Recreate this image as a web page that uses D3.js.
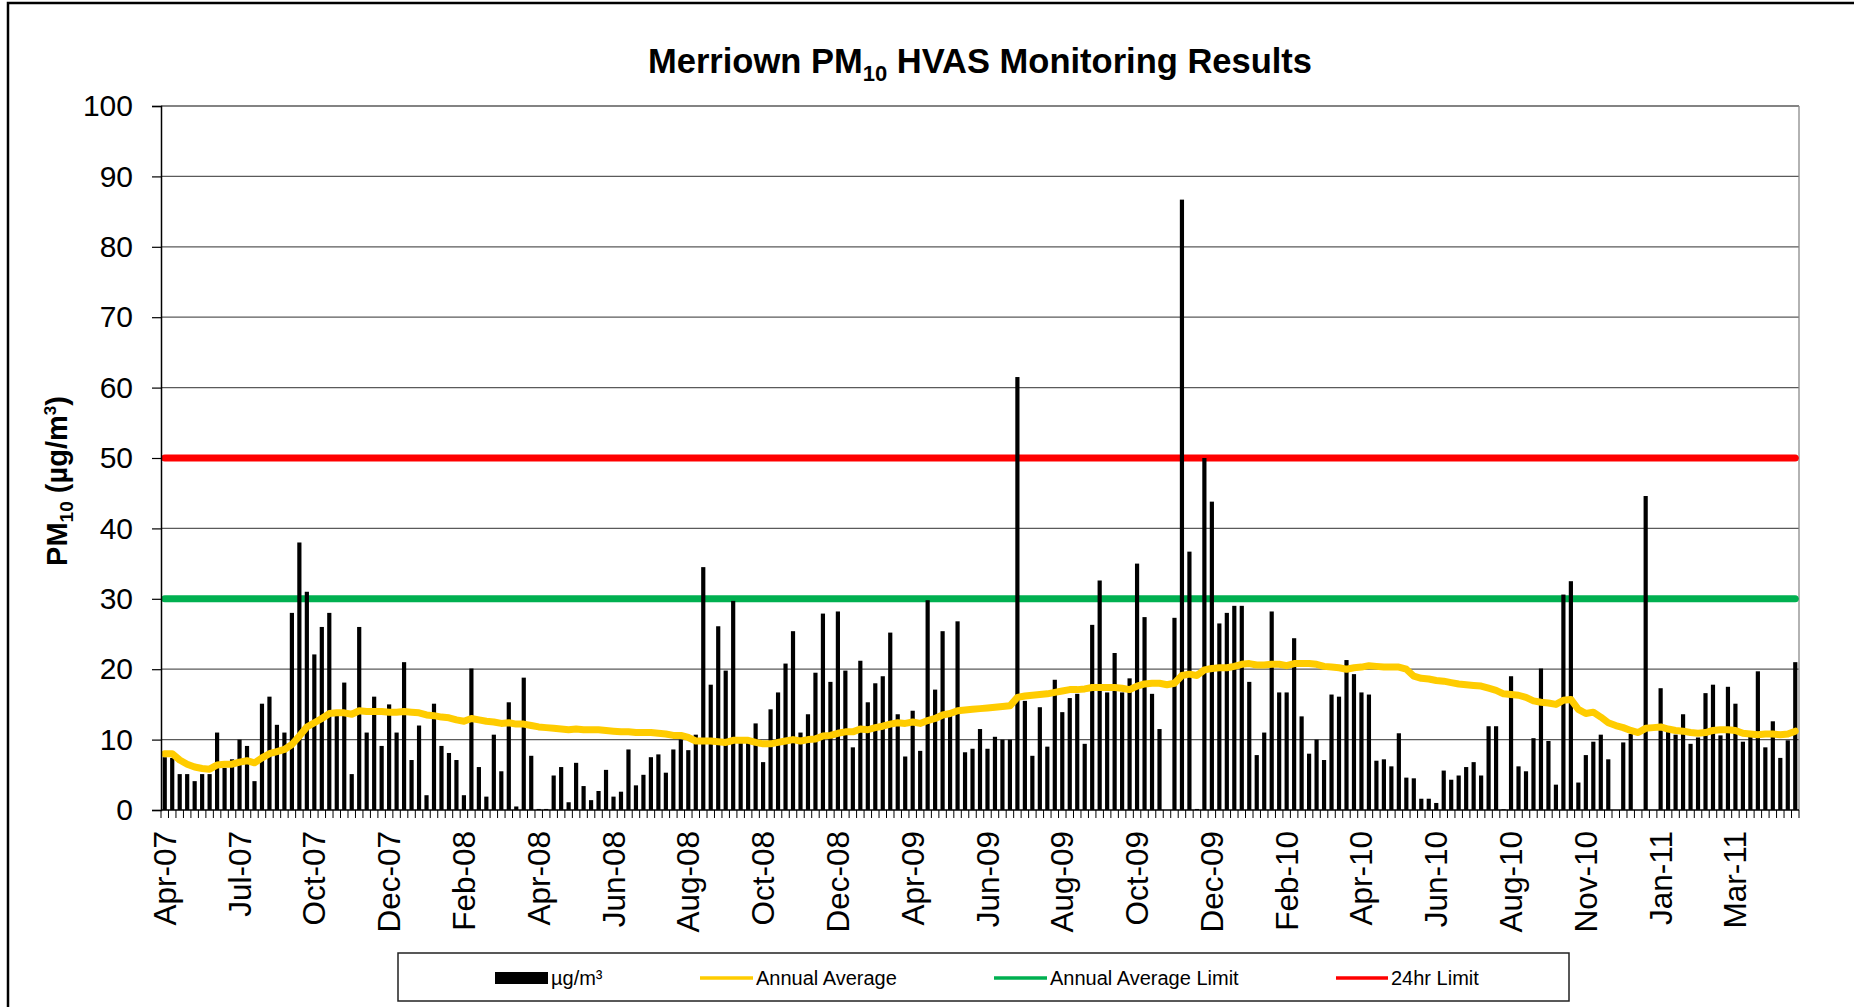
<!DOCTYPE html>
<html><head><meta charset="utf-8">
<script src="https://cdn.jsdelivr.net/npm/d3@7"></script>
<style>body{margin:0;background:#fff}svg{display:block}text{font-family:"Liberation Sans",Arial,sans-serif}</style>
</head><body>
<svg id="c" width="1854" height="1007"></svg>
<script>
const tickLabels = ["Apr-07","Jul-07","Oct-07","Dec-07","Feb-08","Apr-08","Jun-08","Aug-08","Oct-08","Dec-08","Apr-09","Jun-09","Aug-09","Oct-09","Dec-09","Feb-10","Apr-10","Jun-10","Aug-10","Nov-10","Jan-11","Mar-11"];
const labelEvery = 10;
const pm10 = [
7.5,7.4,5.1,5.1,4.1,5.1,5.1,11.0,6.0,7.2,
10.0,9.1,4.1,15.1,16.1,12.1,11.0,28.0,38.0,31.0,
22.1,26.0,28.0,14.0,18.1,5.1,26.0,11.0,16.1,9.1,
15.0,11.0,21.0,7.1,12.0,2.1,15.1,9.1,8.1,7.1,
2.1,20.1,6.1,1.9,10.7,5.5,15.3,0.5,18.8,7.7,
0.15,0.15,4.9,6.1,1.1,6.7,3.4,1.4,2.7,5.7,
1.9,2.6,8.6,3.5,5.0,7.5,7.9,5.3,8.6,10.0,
8.5,10.7,34.5,17.8,26.1,19.8,29.7,10.0,9.8,12.3,
6.8,14.3,16.7,20.8,25.4,11.0,13.6,19.5,27.9,18.2,
28.2,19.8,8.9,21.2,15.3,18.0,19.0,25.2,13.6,7.6,
14.1,8.4,29.8,17.1,25.4,14.0,26.8,8.2,8.7,11.5,
8.7,10.4,10.0,10.0,61.5,15.5,7.7,14.6,9.0,18.5,
13.9,15.9,16.5,9.4,26.3,32.6,16.7,22.3,16.7,18.7,
35.0,27.4,16.5,11.5,null,27.3,86.7,36.7,0.15,50.0,
43.8,26.5,28.0,29.0,29.0,18.2,7.8,11.0,28.2,16.7,
16.7,24.4,13.3,8.0,10.0,7.1,16.4,16.1,21.3,19.3,
16.7,16.4,7.0,7.2,6.2,10.9,4.6,4.5,1.6,1.6,
1.0,5.6,4.3,4.9,6.1,6.8,4.9,11.9,11.9,0.1,
19.0,6.2,5.5,10.2,20.1,9.8,3.6,30.6,32.5,3.9,
7.8,9.7,10.7,7.2,null,9.6,10.8,null,44.6,null,
17.3,11.7,10.7,13.6,9.4,10.3,16.6,17.8,10.6,17.5,
15.1,9.7,10.5,19.7,8.9,12.6,7.4,9.9,21.0];
const annualAvg = [
8.0,8.0,7.1,6.5,6.1,5.9,5.8,6.4,6.5,6.5,
6.8,7.0,6.7,7.4,8.0,8.3,8.6,9.3,10.5,11.8,
12.4,13.0,13.7,13.8,13.8,13.6,14.1,14.0,14.0,14.0,
13.9,13.9,14.0,13.9,13.8,13.5,13.4,13.2,13.1,12.8,
12.6,13.0,12.8,12.6,12.5,12.3,12.4,12.2,12.2,12.0,
11.8,11.7,11.6,11.5,11.4,11.5,11.4,11.4,11.4,11.3,
11.2,11.1,11.1,11.0,11.0,11.0,10.9,10.8,10.6,10.6,
10.3,9.8,9.8,9.8,9.7,9.6,9.9,9.9,9.9,9.6,
9.4,9.4,9.6,9.8,10.0,9.8,10.0,10.1,10.5,10.6,
10.9,11.1,11.1,11.5,11.4,11.7,11.9,12.2,12.4,12.3,
12.5,12.3,12.7,13.0,13.5,13.7,14.1,14.2,14.3,14.4,
14.5,14.6,14.7,14.8,16.0,16.2,16.3,16.4,16.5,16.7,
16.9,17.1,17.1,17.2,17.4,17.4,17.4,17.4,17.3,17.1,
17.6,17.9,18.0,18.0,17.8,18.0,19.1,19.3,19.1,19.9,
20.1,20.2,20.2,20.4,20.7,20.8,20.6,20.6,20.7,20.7,
20.5,20.8,20.8,20.8,20.7,20.4,20.3,20.2,20.0,20.2,
20.3,20.5,20.4,20.3,20.3,20.3,20.0,19.0,18.7,18.6,
18.4,18.3,18.1,17.9,17.8,17.7,17.6,17.3,17.0,16.5,
16.4,16.3,16.0,15.5,15.3,15.2,15.0,15.6,15.7,14.3,
13.7,13.9,13.2,12.4,12.0,11.7,11.3,11.0,11.6,11.7,
11.8,11.5,11.3,11.2,11.0,10.9,11.0,11.3,11.4,11.4,
11.3,10.9,10.8,10.7,10.8,10.8,10.7,10.8,11.2];
const annualLimit = 30;
const dailyLimit = 50;
const yTicks = [0,10,20,30,40,50,60,70,80,90,100];

const svg = d3.select("#c");
const L = 161, R = 1799, T = 106, B = 810;
const N = pm10.length;
const pad = 0.44;
const x = d3.scaleBand().domain(d3.range(N)).range([L, R]).paddingInner(pad).paddingOuter(pad/2);
const y = d3.scaleLinear().domain([0,100]).range([B, T]);
const cx = i => x(i) + x.bandwidth()/2;

svg.append("rect").attr("width",1854).attr("height",1007).attr("fill","#fff");
svg.append("rect").attr("x",8).attr("y",3).attr("width",1900).attr("height",1100)
  .attr("fill","none").attr("stroke","#000").attr("stroke-width",2.5);

svg.append("g").selectAll("line").data(yTicks.filter(d=>d>0)).join("line")
  .attr("x1",L).attr("x2",R).attr("y1",d=>y(d)).attr("y2",d=>y(d))
  .attr("stroke","#5a5a5a").attr("stroke-width",1.3);
svg.append("line").attr("x1",R).attr("x2",R).attr("y1",T).attr("y2",B).attr("stroke","#8a8a8a").attr("stroke-width",1.3);

const hline = (v,color) => svg.append("line").attr("x1",cx(0)).attr("x2",cx(N-1))
  .attr("y1",y(v)).attr("y2",y(v)).attr("stroke",color).attr("stroke-width",7).attr("stroke-linecap","round");
hline(annualLimit,"#00b050");
hline(dailyLimit,"#ff0000");

svg.append("g").selectAll("rect").data(pm10.map((v,i)=>({v,i})).filter(d=>d.v!=null)).join("rect")
  .attr("x",d=>x(d.i)).attr("width",x.bandwidth())
  .attr("y",d=>y(d.v)).attr("height",d=>y(0)-y(d.v)).attr("fill","#000");

svg.append("path").datum(annualAvg)
  .attr("d", d3.line().x((d,i)=>cx(i)).y(d=>y(d)))
  .attr("fill","none").attr("stroke","#ffcc00").attr("stroke-width",7)
  .attr("stroke-linejoin","round").attr("stroke-linecap","round");

const yAxis = svg.append("g").attr("transform",`translate(${L},0)`)
  .call(d3.axisLeft(y).tickValues(yTicks).tickSize(9).tickPadding(19));
yAxis.select(".domain").attr("stroke","#000").attr("stroke-width",1.5);
yAxis.selectAll(".tick line").attr("stroke","#000").attr("stroke-width",1.2);
yAxis.selectAll("text").attr("font-size",30).attr("fill","#000").attr("font-family","Liberation Sans, Arial, sans-serif");

svg.append("line").attr("x1",L).attr("x2",R).attr("y1",B).attr("y2",B).attr("stroke","#000").attr("stroke-width",1.5);
const bounds = d3.range(N+1).map(i => L + i*x.step());
svg.append("g").selectAll("line").data(bounds).join("line")
  .attr("x1",d=>d).attr("x2",d=>d).attr("y1",B).attr("y2",B+8).attr("stroke","#000").attr("stroke-width",1);
svg.append("g").selectAll("text").data(tickLabels).join("text")
  .attr("transform",(d,k)=>`translate(${cx(k*labelEvery)},831) rotate(-90)`)
  .attr("text-anchor","end").attr("dy","0.35em").attr("font-size",31.5).attr("fill","#000").text(d=>d);

const title = svg.append("text").attr("x",(L+R)/2).attr("y",73).attr("text-anchor","middle")
  .attr("font-size",34.5).attr("font-weight","bold");
title.append("tspan").text("Merriown PM");
title.append("tspan").attr("font-size",22).attr("dy",8).text("10");
title.append("tspan").attr("dy",-8).text(" HVAS Monitoring Results");

const yt = svg.append("text").attr("transform","translate(57,481) rotate(-90)").attr("text-anchor","middle")
  .attr("dy","0.35em").attr("font-size",29).attr("font-weight","bold");
yt.append("tspan").text("PM");
yt.append("tspan").attr("font-size",19).attr("dy",6).text("10");
yt.append("tspan").attr("dy",-6).text(" (µg/m");
yt.append("tspan").attr("font-size",17).attr("dy",-11).text("3");
yt.append("tspan").attr("dy",11).text(")");

const lg = svg.append("g");
lg.append("rect").attr("x",398).attr("y",953).attr("width",1171).attr("height",48)
  .attr("fill","#fff").attr("stroke","#222").attr("stroke-width",1.5);
const ly = 978;
const legendItems = [
  {type:"bar", color:"#000", label:"µg/m³", x0:495, x1:548},
  {type:"line", color:"#ffcc00", label:"Annual Average", x0:700, x1:753},
  {type:"line", color:"#00b050", label:"Annual Average Limit", x0:994, x1:1047},
  {type:"line", color:"#ff0000", label:"24hr Limit", x0:1336, x1:1388}
];
legendItems.forEach(it=>{
  if(it.type==="bar") lg.append("rect").attr("x",it.x0).attr("y",ly-6).attr("width",it.x1-it.x0).attr("height",12).attr("fill",it.color);
  else lg.append("line").attr("x1",it.x0).attr("x2",it.x1).attr("y1",ly).attr("y2",ly).attr("stroke",it.color).attr("stroke-width",3.5);
  lg.append("text").attr("x",it.x1+3).attr("y",ly).attr("dy","0.35em").attr("font-size",20).attr("fill","#000").text(it.label);
});
</script>
</body></html>
